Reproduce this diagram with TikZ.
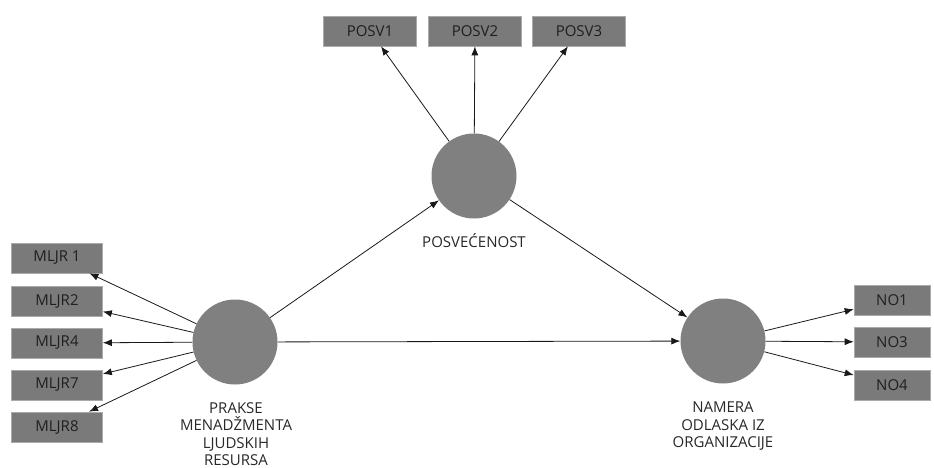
\documentclass[tikz,border=0pt]{standalone}
\usepackage{fontspec}
\setmainfont{Open Sans}
\usetikzlibrary{arrows.meta}
\definecolor{lvfill}{RGB}{128,128,128}
\definecolor{mvfill}{RGB}{122,122,122}
\definecolor{mvline}{RGB}{170,170,170}
\definecolor{labtext}{RGB}{40,40,40}
\begin{document}
\begin{tikzpicture}[x=1pt,y=-1pt,
  lv/.style={circle, fill=lvfill, draw=none, minimum size=85pt, inner sep=0pt},
  mv/.style={rectangle, fill=mvfill, draw=mvline, line width=0.6pt, minimum width=91pt, minimum height=30pt, inner sep=0pt, font=\fontsize{15}{17}\selectfont, text=black!88},
  lab/.style={align=center, font=\fontsize{15}{17.5}\selectfont, text=labtext, inner sep=0pt},
  arr/.style={draw=black!90, line width=0.8pt, -{Latex[length=9pt,width=7pt]}}]
\useasboundingbox (0,0) rectangle (934,468);
% latent variables
\node[lv] (pr) at (235,342) {};
\node[lv] (po) at (474,176) {};
\node[lv] (nm) at (723,341) {};
\node[lab, anchor=north] (prl) at (236,402) {PRAKSE\\MENADŽMENTA\\LJUDSKIH\\RESURSA};
\node[lab, anchor=base] (pol) at (474,247) {POSVEĆENOST};
\node[lab, anchor=north] (nml) at (723,402) {NAMERA\\ODLASKA IZ\\ORGANIZACIJE};
% indicators
\node[mv] (m1) at (57,258) {MLJR 1};
\node[mv] (m2) at (57,301) {MLJR2};
\node[mv] (m4) at (57,343) {MLJR4};
\node[mv] (m7) at (57,385) {MLJR7};
\node[mv] (m8) at (57,427) {MLJR8};
\node[mv, minimum width=93pt] (p1) at (370,31) {POSV1};
\node[mv, minimum width=93pt] (p2) at (475,31) {POSV2};
\node[mv, minimum width=93pt] (p3) at (579,31) {POSV3};
\node[mv, minimum width=76pt] (n1) at (892,300) {NO1};
\node[mv, minimum width=76pt] (n3) at (892,342) {NO3};
\node[mv, minimum width=76pt] (n4) at (892,385) {NO4};
% connectors
\foreach \t in {m1,m2,m4,m7,m8} \draw[arr] (pr) -- (\t);
\foreach \t in {p1,p2,p3} \draw[arr] (po) -- (\t);
\foreach \t in {n1,n3,n4} \draw[arr] (nm) -- (\t);
\draw[arr] (pr) -- (po);
\draw[arr] (pr) -- (nm);
\draw[arr] (po) -- (nm);
\end{tikzpicture}
\end{document}
